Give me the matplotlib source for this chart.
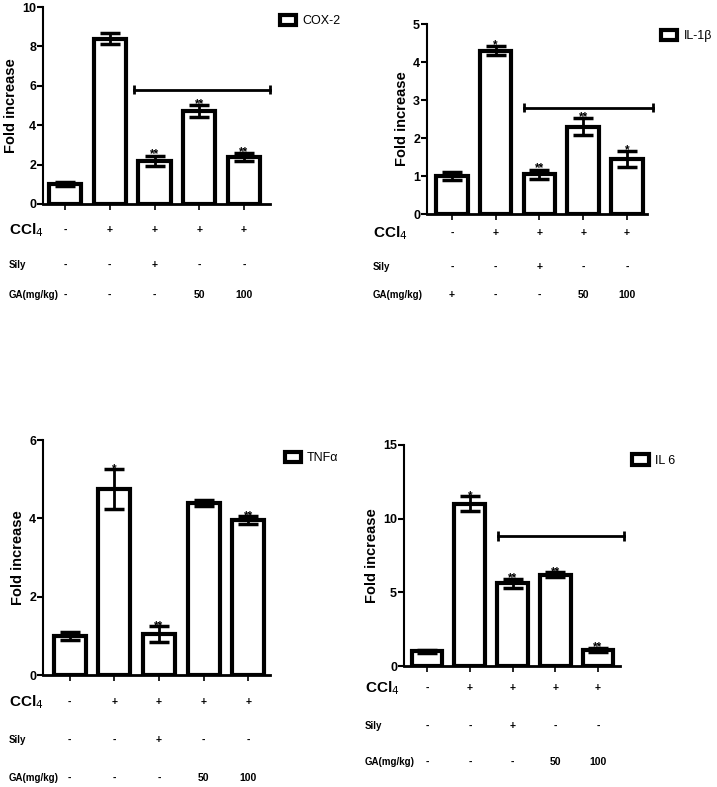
import matplotlib.pyplot as plt
from matplotlib.patches import Patch

plt.rcParams['font.family'] = ['Liberation Sans Narrow', 'Liberation Sans', 'DejaVu Sans']

groups = [0, 1, 2, 3, 4]

cox2_mean = [1.0, 8.4, 2.2, 4.7, 2.4]
cox2_err = [0.1, 0.3, 0.25, 0.3, 0.2]
cox2_stars = ['', '', '**', '**', '**']

il1b_mean = [1.0, 4.3, 1.05, 2.3, 1.45]
il1b_err = [0.1, 0.12, 0.12, 0.22, 0.2]
il1b_stars = ['', '*', '**', '**', '*']

tnfa_mean = [1.0, 4.75, 1.05, 4.4, 3.95]
tnfa_err = [0.1, 0.5, 0.2, 0.08, 0.1]
tnfa_stars = ['', '*', '**', '', '**']

il6_mean = [1.0, 11.0, 5.6, 6.2, 1.1]
il6_err = [0.1, 0.5, 0.3, 0.15, 0.12]
il6_stars = ['', '*', '**', '**', '**']

ccl4_row = ['-', '+', '+', '+', '+']
sily_row = ['-', '-', '+', '-', '-']
ga_row = ['-', '-', '-', '50', '100']
ga_row_il1b = ['+', '-', '-', '50', '100']


def panel(fig, rect, mean, err, stars, ymax, yticks, xlim, name, leg_xy,
          bracket, rows_y, ga, label_x):
    ax = fig.add_axes(rect)
    ax.bar(groups, mean, width=0.72, color='white', edgecolor='black',
           linewidth=3, zorder=2)
    ax.errorbar(groups, mean, yerr=err, fmt='none', ecolor='black',
                elinewidth=2, capsize=7, capthick=2.5, zorder=3)
    for x, m, e, s in zip(groups, mean, err, stars):
        if s:
            ax.text(x, m + e - ymax * 0.025, s, ha='center', va='bottom',
                    fontsize=8.5, fontweight='bold', zorder=4)
    if bracket is not None:
        x0, x1, yb = bracket
        ax.plot([x0, x1], [yb, yb], color='black', linewidth=2, clip_on=False)
        ax.vlines([x0, x1], yb - ymax * 0.022, yb + ymax * 0.022,
                  color='black', linewidth=2, clip_on=False)

    ax.set_xlim(*xlim)
    ax.set_ylim(0, ymax)
    ax.set_yticks(yticks)
    ax.set_xticks(groups)
    ax.set_xticklabels([])
    ax.tick_params(axis='y', labelsize=9, width=1.5, length=4, pad=1)
    ax.tick_params(axis='x', width=1.2, length=4)
    for lab in ax.get_yticklabels():
        lab.set_fontweight('bold')
    ax.spines['top'].set_visible(False)
    ax.spines['right'].set_visible(False)
    ax.spines['left'].set_linewidth(1.5)
    ax.spines['bottom'].set_linewidth(2)
    ax.set_ylabel('Fold increase', fontsize=10.5, fontweight='bold',
                  family=['Liberation Sans', 'DejaVu Sans'], labelpad=3)

    ax.legend(handles=[Patch(facecolor='white', edgecolor='black', linewidth=3)],
              labels=[name], loc='center left', bbox_to_anchor=leg_xy,
              bbox_transform=fig.transFigure, frameon=False, fontsize=9,
              handlelength=1.3, handleheight=0.9, handletextpad=0.5,
              borderaxespad=0, borderpad=0)

    trans = ax.get_xaxis_transform()
    fh = fig.get_size_inches()[1] * fig.dpi
    rows = [('CCl$_4$', ccl4_row, 11), ('Sily', sily_row, 7), ('GA(mg/kg)', ga, 7)]
    for (title, vals, fs), py in zip(rows, rows_y):
        yfig = 1 - py / fh
        fig.text(label_x, yfig, title, fontsize=fs, fontweight='bold',
                 va='center', ha='left')
        yax = (yfig - rect[1]) / rect[3]
        for x, v in zip(groups, vals):
            ax.text(x, yax, v, transform=trans, ha='center', va='center',
                    fontsize=7.5, fontweight='bold')
    return ax


fig = plt.figure(figsize=(7.17, 7.87), dpi=100)

panel(fig, [0.060, 0.7408, 0.3166, 0.2503], cox2_mean, cox2_err, cox2_stars,
      10, [0, 2, 4, 6, 8, 10], (-0.49, 4.58), 'COX-2', (0.390, 0.973),
      (1.55, 4.58, 5.8), [230, 265, 295], ga_row, 0.012)

panel(fig, [0.5955, 0.728, 0.307, 0.2414], il1b_mean, il1b_err, il1b_stars,
      5, [0, 1, 2, 3, 4, 5], (-0.57, 4.46), 'IL-1β', (0.922, 0.954),
      (1.65, 4.6, 2.8), [233, 267, 295], ga_row_il1b, 0.52)

panel(fig, [0.060, 0.1423, 0.3166, 0.2986], tnfa_mean, tnfa_err, tnfa_stars,
      6, [0, 2, 4, 6], (-0.6, 4.49), 'TNFα', (0.397, 0.418),
      None, [702, 740, 778], ga_row, 0.012)

panel(fig, [0.5635, 0.1537, 0.301, 0.281], il6_mean, il6_err, il6_stars,
      15, [0, 5, 10, 15], (-0.54, 4.51), 'IL 6', (0.882, 0.415),
      (1.67, 4.6, 8.8), [688, 726, 762], ga_row, 0.509)

fig.savefig('out.png', dpi=100)
